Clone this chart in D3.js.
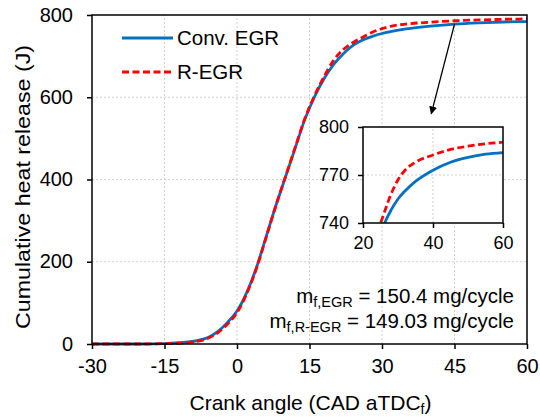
<!DOCTYPE html>
<html>
<head>
<meta charset="utf-8">
<script src="https://cdn.jsdelivr.net/npm/d3@7"></script>
<style>
  body { margin: 0; background: #fff; }
  svg { font-family: "Liberation Sans", Arial, sans-serif; }
</style>
</head>
<body>
<div id="chart"></div>
<script>
// Cumulative heat release vs crank angle
const crankAngle = [-30, -25, -20, -15, -12, -10, -8, -6, -4, -2, 0, 2, 4, 6, 8, 10, 12, 14, 16, 18, 20, 22, 24, 26, 28, 30, 32, 35, 40, 45, 50, 55, 60];
const convEGR = [0, 0, 0, 1, 3, 5, 9, 16, 30, 52, 80, 125, 185, 260, 335, 405, 475, 545, 600, 645, 680, 706, 726, 739, 748, 755, 760, 766, 773, 778, 781, 783, 784];
const rEGR = [0, 0, 0, 1, 2, 4, 7, 14, 27, 48, 76, 122, 183, 258, 335, 406, 477, 547, 603, 650, 690, 716, 733, 746, 758, 767, 773, 778, 782.5, 786, 788, 789.5, 790.5];
const xTicks = [-30, -15, 0, 15, 30, 45, 60];
const yTicks = [0, 200, 400, 600, 800];
const insetXTicks = [20, 40, 60];
const insetYTicks = [740, 770, 800];

const width = 540, height = 418;
const margin = { top: 15, right: 13, bottom: 74, left: 92 };
const blue = '#0070C0', red = '#FF0000';
const font = '"Liberation Sans", Arial, sans-serif';

const svg = d3.select('#chart').append('svg')
  .attr('width', width)
  .attr('height', height);

const x = d3.scaleLinear().domain([-30, 60]).range([margin.left, width - margin.right]);
const y = d3.scaleLinear().domain([0, 800]).range([height - margin.bottom, margin.top]);

// grid
svg.append('g').selectAll('line').data(xTicks.slice(1, -1)).enter().append('line')
  .attr('x1', d => x(d)).attr('x2', d => x(d))
  .attr('y1', y(0)).attr('y2', y(800))
  .attr('stroke', '#cfcfcf').attr('stroke-dasharray', '2,2');
svg.append('g').selectAll('line').data(yTicks.slice(1, -1)).enter().append('line')
  .attr('y1', d => y(d)).attr('y2', d => y(d))
  .attr('x1', x(-30)).attr('x2', x(60))
  .attr('stroke', '#cfcfcf').attr('stroke-dasharray', '2,2');

svg.append('defs').append('clipPath').attr('id', 'clipMain')
  .append('rect').attr('x', x(-30)).attr('y', y(800) - 2)
  .attr('width', x(60) - x(-30)).attr('height', y(0) - y(800) + 4);

const line = d3.line().x(d => x(d[0])).y(d => y(d[1])).curve(d3.curveMonotoneX);

svg.append('path')
  .datum(crankAngle.map((a, i) => [a, convEGR[i]]))
  .attr('clip-path', 'url(#clipMain)')
  .attr('d', line).attr('fill', 'none')
  .attr('stroke', blue).attr('stroke-width', 2.8);
svg.append('path')
  .datum(crankAngle.map((a, i) => [a, rEGR[i]]))
  .attr('clip-path', 'url(#clipMain)')
  .attr('d', line).attr('fill', 'none')
  .attr('stroke', red).attr('stroke-width', 2.8).attr('stroke-dasharray', '7,3.5');

// frame
svg.append('rect')
  .attr('x', x(-30)).attr('y', y(800))
  .attr('width', x(60) - x(-30)).attr('height', y(0) - y(800))
  .attr('fill', 'none').attr('stroke', '#000').attr('stroke-width', 1.5);

// axes
const xAxis = svg.append('g')
  .attr('transform', `translate(0,${y(0)})`)
  .call(d3.axisBottom(x).tickValues(xTicks).tickFormat(d => String(d)).tickSize(5).tickPadding(10));
const yAxis = svg.append('g')
  .attr('transform', `translate(${x(-30)},0)`)
  .call(d3.axisLeft(y).tickValues(yTicks).tickFormat(d => String(d)).tickSize(5).tickPadding(14));
[xAxis, yAxis].forEach(a => {
  a.select('.domain').remove();
  a.selectAll('line').attr('stroke', '#000').attr('stroke-width', 1.5);
  a.selectAll('text').attr('font-size', 20).attr('fill', '#000').style('font-family', font);
});
yAxis.selectAll('text').attr('dy', '0.3em');

// axis titles
const xt = svg.append('text')
  .attr('x', (x(-30) + x(60)) / 2 + 1).attr('y', 410)
  .attr('text-anchor', 'middle').attr('font-size', 21);
xt.append('tspan').text('Crank angle (CAD aTDC');
xt.append('tspan').attr('font-size', 14).attr('dy', 4).text('f');
xt.append('tspan').attr('dy', -4).text(')');

svg.append('text')
  .attr('transform', `translate(30,187) rotate(-90)`)
  .attr('text-anchor', 'middle').attr('font-size', 21)
  .attr('textLength', 284).attr('lengthAdjust', 'spacingAndGlyphs')
  .text('Cumulative heat release (J)');

// legend
const legend = [{ name: 'Conv. EGR', color: blue, dash: null, yy: 38 },
                { name: 'R-EGR', color: red, dash: '7,3.5', yy: 72 }];
legend.forEach(l => {
  svg.append('line').attr('x1', 122).attr('x2', 173).attr('y1', l.yy).attr('y2', l.yy)
    .attr('stroke', l.color).attr('stroke-width', 2.8).attr('stroke-dasharray', l.dash);
  svg.append('text').attr('x', 177).attr('y', l.yy).attr('dy', '0.35em')
    .attr('font-size', 20.5).text(l.name);
});

// fuel mass annotation
const notes = [{ sub: 'f,EGR', val: ' = 150.4 mg/cycle', yy: 303 },
               { sub: 'f,R-EGR', val: ' = 149.03 mg/cycle', yy: 328 }];
notes.forEach(n => {
  const t = svg.append('text').attr('x', 514).attr('y', n.yy)
    .attr('text-anchor', 'end').attr('font-size', 20.5);
  t.append('tspan').text('m');
  t.append('tspan').attr('font-size', 14.5).attr('dy', 4).text(n.sub);
  t.append('tspan').attr('dy', -4).text(n.val);
});

// arrow
svg.append('defs').append('marker')
  .attr('id', 'arrow').attr('viewBox', '0 0 10 10')
  .attr('refX', 9).attr('refY', 5)
  .attr('markerWidth', 8).attr('markerHeight', 8)
  .attr('markerUnits', 'userSpaceOnUse')
  .attr('orient', 'auto')
  .append('path').attr('d', 'M0,0 L10,5 L0,10 z').attr('fill', '#000');
svg.append('line')
  .attr('x1', x(45)).attr('y1', y(778)).attr('x2', x(40.2)).attr('y2', y(560))
  .attr('stroke', '#000').attr('stroke-width', 1.3)
  .attr('marker-end', 'url(#arrow)');

// inset
const ix = d3.scaleLinear().domain([20, 60]).range([363, 503]);
const iy = d3.scaleLinear().domain([740, 800]).range([223, 127]);
const inset = svg.append('g');
inset.append('rect').attr('x', ix(20)).attr('y', iy(800))
  .attr('width', ix(60) - ix(20)).attr('height', iy(740) - iy(800)).attr('fill', '#fff');
inset.append('line').attr('x1', ix(40)).attr('x2', ix(40)).attr('y1', iy(740)).attr('y2', iy(800))
  .attr('stroke', '#cfcfcf').attr('stroke-dasharray', '2,2');
inset.append('line').attr('y1', iy(770)).attr('y2', iy(770)).attr('x1', ix(20)).attr('x2', ix(60))
  .attr('stroke', '#cfcfcf').attr('stroke-dasharray', '2,2');
svg.append('defs').append('clipPath').attr('id', 'clipInset')
  .append('rect').attr('x', ix(20)).attr('y', iy(800))
  .attr('width', ix(60) - ix(20)).attr('height', iy(740) - iy(800));
const iline = d3.line().x(d => ix(d[0])).y(d => iy(d[1])).curve(d3.curveMonotoneX);
inset.append('path')
  .datum(crankAngle.map((a, i) => [a, convEGR[i]]).filter(d => d[0] >= 18))
  .attr('clip-path', 'url(#clipInset)')
  .attr('d', iline).attr('fill', 'none').attr('stroke', blue).attr('stroke-width', 2.8);
inset.append('path')
  .datum(crankAngle.map((a, i) => [a, rEGR[i]]).filter(d => d[0] >= 18))
  .attr('clip-path', 'url(#clipInset)')
  .attr('d', iline).attr('fill', 'none').attr('stroke', red).attr('stroke-width', 2.8)
  .attr('stroke-dasharray', '7,3.5');
inset.append('rect').attr('x', ix(20)).attr('y', iy(800))
  .attr('width', ix(60) - ix(20)).attr('height', iy(740) - iy(800))
  .attr('fill', 'none').attr('stroke', '#000').attr('stroke-width', 1.5);
const ixa = inset.append('g').attr('transform', `translate(0,${iy(740)})`)
  .call(d3.axisBottom(ix).tickValues(insetXTicks).tickSize(5).tickPadding(8));
const iya = inset.append('g').attr('transform', `translate(${ix(20)},0)`)
  .call(d3.axisLeft(iy).tickValues(insetYTicks).tickSize(5).tickPadding(9));
[ixa, iya].forEach(a => {
  a.select('.domain').remove();
  a.selectAll('line').attr('stroke', '#000').attr('stroke-width', 1.5);
  a.selectAll('text').attr('font-size', 18).attr('fill', '#000').style('font-family', font);
});
</script>
</body>
</html>
